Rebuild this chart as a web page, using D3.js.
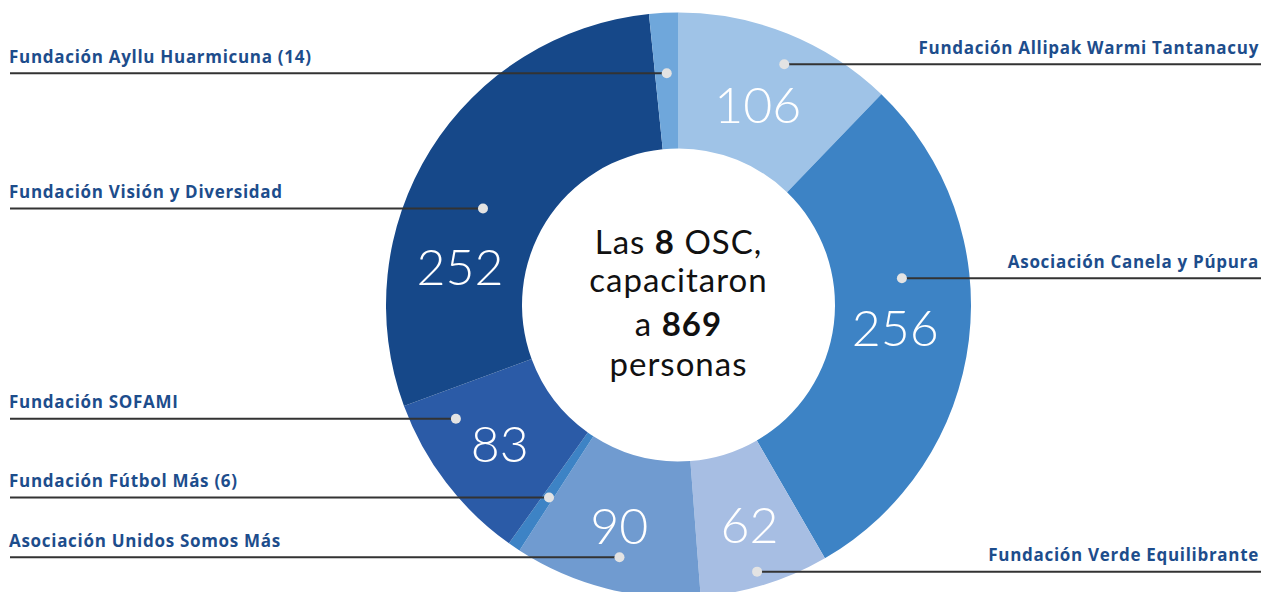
<!DOCTYPE html>
<html>
<head>
<meta charset="utf-8">
<script src="https://cdn.jsdelivr.net/npm/d3@7.9.0/dist/d3.min.js"></script>
<style>
  body { margin: 0; background: #fff; }
  svg { display: block; }
</style>
</head>
<body>
<svg id="chart" width="1261" height="592"></svg>
<script>
// data, clockwise from 12 o'clock
const orgs = [
  'Fundación Allipak Warmi Tantanacuy',
  'Asociación Canela y Púpura',
  'Fundación Verde Equilibrante',
  'Asociación Unidos Somos Más',
  'Fundación Fútbol Más (6)',
  'Fundación SOFAMI',
  'Fundación Visión y Diversidad',
  'Fundación Ayllu Huarmicuna (14)'
];
const counts = [106, 256, 62, 90, 6, 83, 252, 14];
const showValue = [true, true, true, true, false, true, true, false];
const sliceColors = ['#9fc3e7', '#3d83c5', '#a7bee3', '#709bd0', '#3d83c5', '#2b5ba7', '#164889', '#6fa7db'];

// where the marker dot / number sit inside each slice (fraction of slice angle, radius)
const dotAt = [[0.54, 263], [0.37, 225], [0.53, 278], [0.47, 259], [0.4, 232], [0.8, 250], [0.445, 218], [0.5, 232]];
const numAt = [[0.49, 216], [0.49, 218], [0.47, 230], [0.52, 228], [0, 0], [0.49, 226], [0.29, 222], [0, 0]];

const cx = 678.5, cy = 305;
const outerR = 292.5, innerR = 156.5;

const svg = d3.select('#chart');
const g = svg.append('g').attr('transform', `translate(${cx},${cy})`);

let pie = d3.pie().sort(null).value(d => d);
let arcData = pie(counts);
let arcGen = d3.arc().innerRadius(innerR).outerRadius(outerR);

g.selectAll('path.slice')
  .data(arcData)
  .enter()
  .append('path')
  .attr('class', 'slice')
  .attr('d', arcGen)
  .attr('fill', (d, i) => sliceColors[i]);

// point inside a slice, angle measured clockwise from top
function polar(d, frac, r) {
  let a = d.startAngle + (d.endAngle - d.startAngle) * frac;
  return [r * Math.sin(a), -r * Math.cos(a)];
}

// numbers in the ring
arcData.forEach((d, i) => {
  if (!showValue[i]) return;
  let [x, y] = polar(d, numAt[i][0], numAt[i][1]);
  g.append('text')
    .attr('x', x)
    .attr('y', y)
    .attr('text-anchor', 'middle')
    .attr('dominant-baseline', 'central')
    .attr('fill', '#fff')
    .attr('font-family', 'Lato, sans-serif')
    .attr('font-weight', 300)
    .attr('font-size', 50)
    .text(counts[i]);
});

// leader lines + labels
arcData.forEach((d, i) => {
  let [x, y] = polar(d, dotAt[i][0], dotAt[i][1]);
  let right = x > 0;
  let px = cx + x, py = cy + y;
  svg.append('line')
    .attr('x1', px)
    .attr('x2', right ? 1261 : 10)
    .attr('y1', py)
    .attr('y2', py)
    .attr('stroke', '#333')
    .attr('stroke-width', 2);
  svg.append('circle')
    .attr('cx', px)
    .attr('cy', py)
    .attr('r', 5)
    .attr('fill', '#e3e3e3');
  svg.append('text')
    .attr('x', right ? 1259 : 9)
    .attr('y', py - 10.5)
    .attr('text-anchor', right ? 'end' : 'start')
    .attr('fill', '#1d4d8c')
    .attr('font-family', '"Open Sans", sans-serif')
    .attr('font-weight', 700)
    .attr('font-size', 17)
    .attr('letter-spacing', 0.7)
    .text(orgs[i]);
});

// centre text, one <text> per line
const total = d3.sum(counts);
const centerLines = [
  [['Las ', 400], [counts.length, 700], [' OSC,', 400]],
  [['capacitaron', 400]],
  [['a ', 400], [total, 700]],
  [['personas', 400]]
];
const lineY = [-51, -13, 31, 71];
centerLines.forEach((parts, k) => {
  let t = g.append('text')
    .attr('x', 0)
    .attr('y', lineY[k])
    .attr('text-anchor', 'middle')
    .attr('font-family', 'Lato, sans-serif')
    .attr('font-size', 33)
    .attr('letter-spacing', 1)
    .attr('fill', '#111');
  parts.forEach(([s, w]) => t.append('tspan').attr('font-weight', w).text(s));
});
</script>
</body>
</html>
